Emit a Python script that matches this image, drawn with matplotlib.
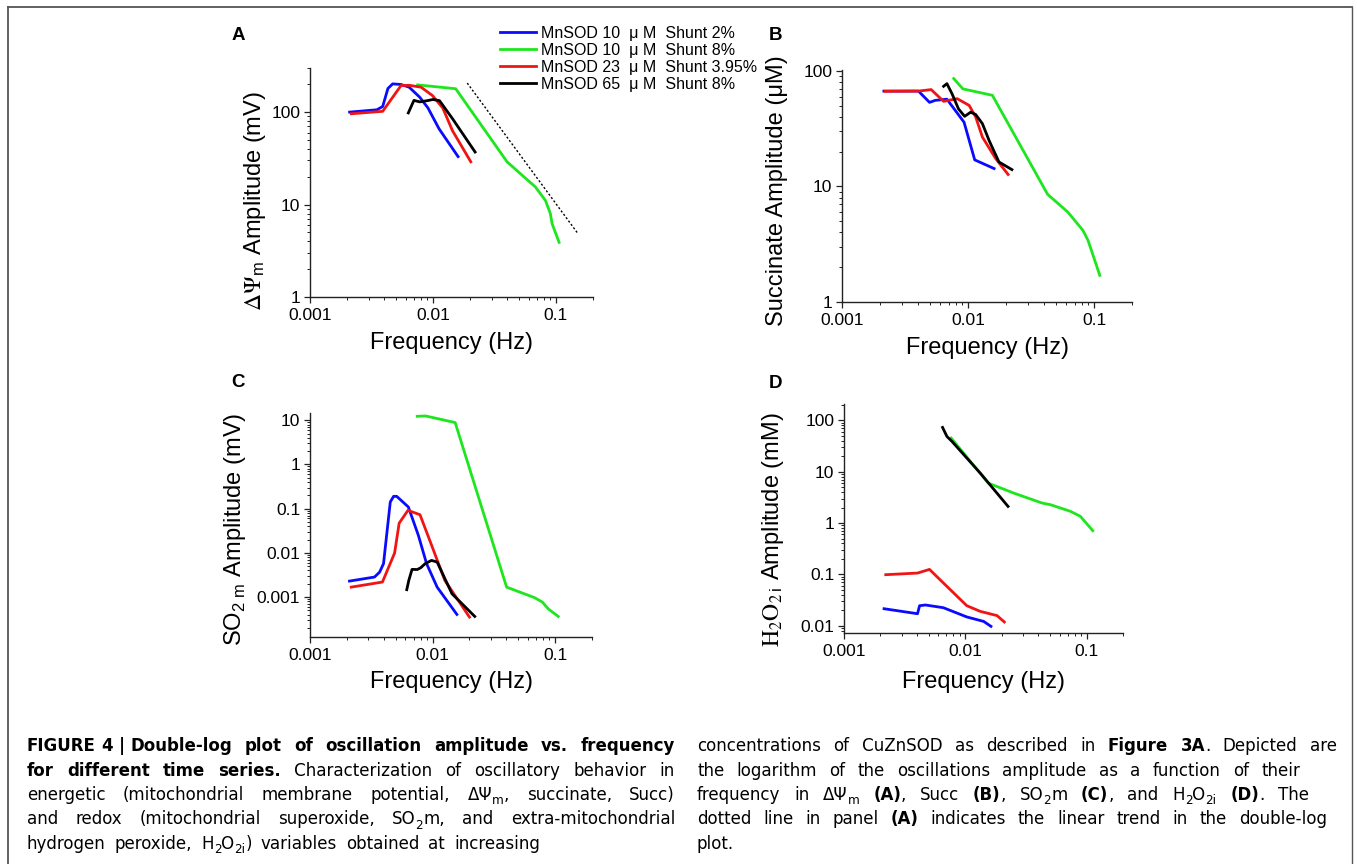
import matplotlib
matplotlib.use("Agg")
import matplotlib.pyplot as plt
from matplotlib.ticker import LogLocator, FuncFormatter, NullFormatter
from matplotlib.lines import Line2D
from matplotlib import font_manager as fm

plt.rcParams['font.family'] = ['Liberation Sans', 'DejaVu Sans']

W, H = 1357, 864

# ---------------- data ----------------
series_labels = ["MnSOD 10  \u03bc M  Shunt 2%", "MnSOD 10  \u03bc M  Shunt 8%",
                 "MnSOD 23  \u03bc M  Shunt 3.95%", "MnSOD 65  \u03bc M  Shunt 8%"]
series_colors = ['#0a0aff', '#1ee61e', '#f01414', '#000000']

# Panel A : delta Psi_m amplitude (mV)
a_blue_f = [0.0021, 0.0035, 0.0039, 0.0043, 0.0047, 0.0055, 0.0064, 0.0078, 0.0091, 0.0112, 0.0160]
a_blue_v = [100, 106, 115, 180, 202, 199, 186, 145, 111, 66, 33]
a_green_f = [0.0075, 0.0153, 0.040, 0.068, 0.082, 0.090, 0.093, 0.106]
a_green_v = [197, 179, 29, 15.5, 11.1, 8.0, 6.2, 3.9]
a_red_f = [0.00217, 0.0039, 0.0055, 0.0064, 0.0080, 0.0099, 0.0120, 0.0144, 0.0203]
a_red_v = [96, 102, 194, 195, 186, 151, 111, 63, 29]
a_black_f = [0.0063, 0.0070, 0.0078, 0.0090, 0.0100, 0.0113, 0.0144, 0.022]
a_black_v = [98, 134, 129, 133, 137, 133, 85, 37]
trend_f = [0.019, 0.151]
trend_v = [206, 4.84]

# Panel B : succinate amplitude (uM)
b_blue_f = [0.00215, 0.00404, 0.00495, 0.0055, 0.0068, 0.0093, 0.0113, 0.0161]
b_blue_v = [67, 67, 53.5, 55.7, 57, 36, 17, 14.3]
b_green_f = [0.0077, 0.0091, 0.0156, 0.0428, 0.062, 0.0816, 0.0895, 0.0953, 0.111]
b_green_v = [86, 70, 61.6, 8.55, 6.0, 4.17, 3.42, 2.8, 1.70]
b_red_f = [0.0022, 0.00404, 0.0051, 0.0064, 0.0082, 0.0102, 0.0115, 0.0130, 0.0166, 0.0208]
b_red_v = [66.7, 67, 69, 54.6, 57.6, 50.4, 40, 26.8, 17.4, 12.7]
b_black_f = [0.0064, 0.0068, 0.00746, 0.0084, 0.0094, 0.0105, 0.0115, 0.0130, 0.0147, 0.0176, 0.0223]
b_black_v = [73.7, 77.7, 63.6, 47, 40.5, 44, 42, 35, 25, 16.3, 14]

# Panel C : SO2m amplitude (mV)
c_blue_f = [0.0021, 0.00336, 0.0037, 0.00398, 0.00452, 0.00481, 0.0051, 0.00635, 0.00766, 0.00894, 0.0109, 0.0158]
c_blue_v = [0.0023, 0.00284, 0.00368, 0.0057, 0.142, 0.19, 0.19, 0.109, 0.0249, 0.0057, 0.00168, 0.000405]
c_green_f = [0.0075, 0.0088, 0.0153, 0.0402, 0.068, 0.0787, 0.0877, 0.093, 0.106]
c_green_v = [12.3, 12.5, 8.86, 0.00168, 0.00097, 0.00077, 0.000545, 0.00048, 0.000365]
c_red_f = [0.00217, 0.0039, 0.0049, 0.00534, 0.0063, 0.0079, 0.0096, 0.0126, 0.020]
c_red_v = [0.00168, 0.00219, 0.0099, 0.047, 0.0916, 0.073, 0.0176, 0.00238, 0.000353]
c_black_f = [0.00616, 0.0064, 0.0068, 0.0075, 0.0080, 0.0087, 0.0098, 0.0109, 0.0144, 0.0221]
c_black_v = [0.00147, 0.00238, 0.00423, 0.0042, 0.0046, 0.0057, 0.00676, 0.0062, 0.00119, 0.000365]

# Panel D : H2O2i amplitude (mM)
d_blue_f = [0.00214, 0.00404, 0.0042, 0.0047, 0.0066, 0.0103, 0.0142, 0.0163]
d_blue_v = [0.0214, 0.0171, 0.0245, 0.0253, 0.0224, 0.0148, 0.0121, 0.0097]
d_green_f = [0.00766, 0.0155, 0.0251, 0.0431, 0.0504, 0.0738, 0.0891, 0.1127]
d_green_v = [45.3, 6.0, 3.84, 2.45, 2.28, 1.69, 1.35, 0.71]
d_red_f = [0.00221, 0.00404, 0.00507, 0.0066, 0.0103, 0.0133, 0.0183, 0.021]
d_red_v = [0.0986, 0.106, 0.125, 0.068, 0.0245, 0.019, 0.0157, 0.0118]
d_black_f = [0.0065, 0.00706, 0.00777, 0.0133, 0.02254]
d_black_v = [73, 48.7, 39, 9.4, 2.11]

xlabel = "Frequency (Hz)"

# ---------------- figure ----------------
fig = plt.figure(figsize=(W / 100, H / 100), dpi=100)


def px_axes(l, t, r, b):
    return fig.add_axes([l / W, 1 - b / H, (r - l) / W, (b - t) / H])


def style_axes(ax, ylim, ylab_kw, ylab, ylab_pos, xlab_pos):
    ax.set_xscale('log')
    ax.set_yscale('log')
    ax.set_xlim(0.001, 0.2)
    ax.set_ylim(*ylim)
    for s in ('top', 'right'):
        ax.spines[s].set_visible(False)
    for s in ('left', 'bottom'):
        ax.spines[s].set_linewidth(1.0)
        ax.spines[s].set_color('#222222')
    for axis in (ax.xaxis, ax.yaxis):
        axis.set_major_locator(LogLocator(base=10, numticks=20))
        axis.set_minor_locator(LogLocator(base=10, subs=range(2, 10), numticks=20))
        axis.set_major_formatter(FuncFormatter(lambda v, p: f"{v:g}"))
        axis.set_minor_formatter(NullFormatter())
    ax.tick_params(which='major', length=4.5, width=0.9, labelsize=12.5, color='#222222')
    ax.tick_params(which='minor', length=2.5, width=0.7, color='#222222')
    ax.tick_params(axis='y', pad=2.5)
    ax.tick_params(axis='x', pad=3.5)
    ax.set_xlabel(xlabel, fontsize=17)
    ax.xaxis.label.set_va('center')
    ax.xaxis.set_label_coords(0.5, xlab_pos)
    ax.set_ylabel(ylab, fontsize=17, **ylab_kw)
    ax.yaxis.label.set_va('center')
    ax.yaxis.set_label_coords(ylab_pos[0], ylab_pos[1])


LW = 2.0
axA = px_axes(310, 68, 593, 297)
hA = []
for f, v, c, lab in zip([a_blue_f, a_green_f, a_red_f, a_black_f],
                        [a_blue_v, a_green_v, a_red_v, a_black_v],
                        series_colors, series_labels):
    hA.append(axA.plot(f, v, color=c, lw=LW, label=lab, solid_joinstyle='round')[0])
axA.plot(trend_f, trend_v, color='black', lw=1.0, ls=(0, (1.5, 1.5)))
style_axes(axA, (1, 300), dict(math_fontfamily='stix'),
           r'$\Delta\Psi_{\mathregular{m}}$ Amplitude (mV)', (-0.194, 0.42), -0.2)

axB = px_axes(842, 70, 1132, 302)
for f, v, c in zip([b_blue_f, b_green_f, b_red_f, b_black_f],
                   [b_blue_v, b_green_v, b_red_v, b_black_v], series_colors):
    axB.plot(f, v, color=c, lw=LW, solid_joinstyle='round')
style_axes(axB, (1, 102), {}, 'Succinate Amplitude (\u03bcM)', (-0.225, 0.48), -0.2)

axC = px_axes(310, 413, 592, 637)
for f, v, c in zip([c_blue_f, c_green_f, c_red_f, c_black_f],
                   [c_blue_v, c_green_v, c_red_v, c_black_v], series_colors):
    axC.plot(f, v, color=c, lw=LW, solid_joinstyle='round')
style_axes(axC, (1.25e-4, 14.6), {},
           r'SO$_{\mathregular{2\ m}}$ Amplitude (mV)', (-0.266, 0.48), -0.202)

axD = px_axes(844, 404, 1123, 633)
for f, v, c in zip([d_blue_f, d_green_f, d_red_f, d_black_f],
                   [d_blue_v, d_green_v, d_red_v, d_black_v], series_colors):
    axD.plot(f, v, color=c, lw=LW, solid_joinstyle='round')
style_axes(axD, (0.0072, 209), dict(math_fontfamily='stix'),
           r'$\mathrm{H}_{2}\mathrm{O}_{2\;\mathregular{i}}$ Amplitude (mM)', (-0.254, 0.453), -0.213)

# panel letters
for lab, x, y in [('A', 238, 35), ('B', 775, 35), ('C', 238, 383), ('D', 775, 384)]:
    fig.text(x / W, 1 - y / H, lab, fontsize=13.5, fontweight='bold', ha='center', va='center')

# legend
fig.legend(handles=hA, labels=series_labels, loc='upper left',
           bbox_to_anchor=(500 / W, 1 - 26 / H), bbox_transform=fig.transFigure,
           frameon=False, fontsize=11.5, handlelength=2.25, handletextpad=0.3,
           labelspacing=0.12, borderpad=0, borderaxespad=0)

# frame
bc = '#555555'
fig.add_artist(Line2D([8 / W, 8 / W], [0, 1 - 7 / H], transform=fig.transFigure, color=bc, lw=1.3))
fig.add_artist(Line2D([8 / W, 1352 / W], [1 - 7 / H, 1 - 7 / H], transform=fig.transFigure, color=bc, lw=1.3))
fig.add_artist(Line2D([1352 / W, 1352 / W], [0, 1 - 7 / H], transform=fig.transFigure, color=bc, lw=1.0))

# ---------------- caption (justified) ----------------
entries = [(f.name, f.stretch) for f in fm.fontManager.ttflist]
if any(n == 'Liberation Sans Narrow' for n, s in entries):
    cap_family, cap_stretch = ['Liberation Sans Narrow', 'DejaVu Sans'], 'normal'
elif any(n == 'DejaVu Sans' and s in ('condensed', 'semi-condensed') for n, s in entries):
    cap_family, cap_stretch = ['DejaVu Sans'], 'condensed'
else:
    cap_family, cap_stretch = ['Liberation Sans', 'DejaVu Sans'], 'normal'

renderer = fig.canvas.get_renderer()


def parse(line):
    # '**' toggles bold, '_{..}' is a subscript, ' ' is a stretchable gap,
    # '~' is a fixed (non-stretching) space inside a word group
    words, cur, buf = [], [], ''
    bold = False
    i = 0
    while i < len(line):
        if line.startswith('**', i):
            if buf:
                cur.append((buf, bold, False)); buf = ''
            bold = not bold
            i += 2
        elif line.startswith('_{', i):
            if buf:
                cur.append((buf, bold, False)); buf = ''
            j = line.index('}', i)
            cur.append((line[i + 2:j], bold, True))
            i = j + 1
        elif line[i] == ' ':
            if buf:
                cur.append((buf, bold, False)); buf = ''
            if cur:
                words.append(cur); cur = []
            i += 1
        elif line[i] == '~':
            if buf:
                cur.append((buf, bold, False)); buf = ''
            cur.append(('~', bold, False))
            i += 1
        else:
            buf += line[i]
            i += 1
    if buf:
        cur.append((buf, bold, False))
    if cur:
        words.append(cur)
    return words


def make_words(line, fs):
    objs, widths = [], []
    space = fs * 100 / 72 * 0.3
    for w in parse(line):
        wo, tot = [], 0
        for txt, b, sub in w:
            if txt == '~':
                wo.append((None, space, False))
                tot += space
                continue
            t = fig.text(0, 0, txt, fontsize=fs * (0.72 if sub else 1.0),
                         fontweight='bold' if b else 'normal', family=cap_family,
                         fontstretch=cap_stretch, ha='left', va='baseline')
            wd = t.get_window_extent(renderer).width
            wo.append((t, wd, sub))
            tot += wd
        objs.append(wo)
        widths.append(tot)
    return objs, widths


def place(objs, widths, x0, x1, base, fs, justify):
    space = fs * 100 / 72 * 0.28
    if justify and len(objs) > 1:
        gap = (x1 - x0 - sum(widths)) / (len(objs) - 1)
    else:
        gap = space
    x = x0
    for wo, wd in zip(objs, widths):
        xx = x
        for t, pw, sub in wo:
            if t is not None:
                yy = base + (fs * 100 / 72 * 0.22 if sub else 0)
                t.set_position((xx / W, 1 - yy / H))
            xx += pw
        x += wd + gap


left_lines = [
    ("**FIGURE~4~|~Double-log plot of oscillation amplitude vs. frequency**", 675, True),
    ("**for different time series.** Characterization of oscillatory behavior in", 675, True),
    ("energetic (mitochondrial membrane potential, \u0394\u03a8_{m}, succinate, Succ)", 675, True),
    ("and redox (mitochondrial superoxide, SO_{2}m, and extra-mitochondrial", 675, True),
    ("hydrogen peroxide, H_{2}O_{2i}) variables obtained at increasing", 540, True),
]
right_lines = [
    ("concentrations of CuZnSOD as described in **Figure 3A**. Depicted are", 1337, True),
    ("the logarithm of the oscillations amplitude as a function of their", 1300, True),
    ("frequency in \u0394\u03a8_{m} **(A)**, Succ **(B)**, SO_{2}m **(C)**, and H_{2}O_{2i} **(D)**. The", 1309, True),
    ("dotted line in panel **(A)** indicates the linear trend in the double-log", 1327, True),
    ("plot.", 1337, False),
]
baselines = [751, 775.5, 800, 824.5, 849]
cols = [(27, left_lines), (697, right_lines)]

# choose the largest caption size (up to 13.3 pt) at which every justified line fits
CAP_FS = 13.3
while CAP_FS > 9:
    ok = True
    for x0, lines in cols:
        for ln, xe, j in lines:
            objs, widths = make_words(ln, CAP_FS)
            need = sum(widths) + (len(widths) - 1) * CAP_FS * 100 / 72 * 0.25
            for wo in objs:
                for t, _, _ in wo:
                    if t is not None:
                        t.remove()
            if j and need > xe - x0:
                ok = False
    if ok:
        break
    CAP_FS -= 0.3

for x0, lines in cols:
    for (ln, xe, j), b in zip(lines, baselines):
        objs, widths = make_words(ln, CAP_FS)
        place(objs, widths, x0, xe, b, CAP_FS, j)

fig.savefig('out.png', dpi=100)
